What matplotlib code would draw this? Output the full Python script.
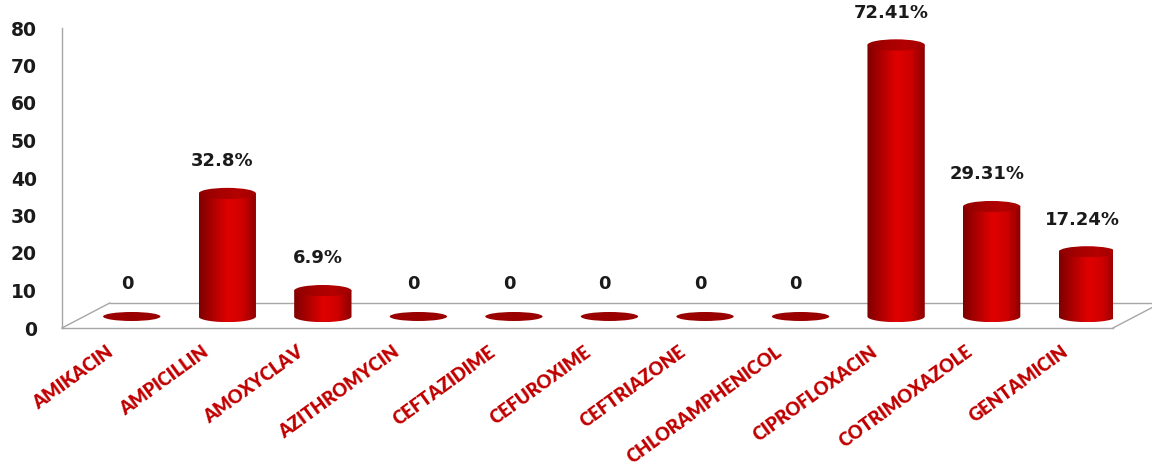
import numpy as np
import matplotlib
matplotlib.use("Agg")  # headless
import matplotlib.pyplot as plt
from matplotlib.patches import Ellipse, PathPatch
from matplotlib.path import Path
from matplotlib.transforms import offset_copy
from matplotlib.colors import LinearSegmentedColormap

# ── Data ──────────────────────────────────────────────────────────────────────
drugs = [
    "AMIKACIN", "AMPICILLIN", "AMOXYCLAV", "AZITHROMYCIN", "CEFTAZIDIME",
    "CEFUROXIME", "CEFTRIAZONE", "CHLORAMPHENICOL", "CIPROFLOXACIN",
    "COTRIMOXAZOLE", "GENTAMICIN",
]
resistance = [0, 32.8, 6.9, 0, 0, 0, 0, 0, 72.41, 29.31, 17.24]
value_labels = ["0", "32.8%", "6.9%", "0", "0", "0", "0", "0",
                "72.41%", "29.31%", "17.24%"]
y_ticks = [0, 10, 20, 30, 40, 50, 60, 70, 80]

# ── Style / 3D fake geometry ──────────────────────────────────────────────────
FLOOR_DX, FLOOR_DY = 0.50, 6.67     # depth of the floor (data units)
BAR_DEPTH = 0.46                    # bars sit part way into the floor
BAR_W = 0.60
ELL_H = 1.5                         # half height of the cylinder ellipses
GRID_COLOR = "#a6a6a6"
LABEL_RED = "#c00000"

body_cmap = LinearSegmentedColormap.from_list(
    "cyl", ["#7e0000", "#b00000", "#e00000", "#cf0000", "#8a0000"])
top_cmap = LinearSegmentedColormap.from_list(
    "cyltop", ["#8e0000", "#a60000", "#b40000", "#a00000"])

fig = plt.figure(figsize=(11.52, 4.68), dpi=100)
ax = fig.add_axes([62 / 1152, 140 / 468, 1051 / 1152, 300 / 468])
x = np.arange(len(drugs))

# floor + vertical axis
x0, x1 = -0.5, len(drugs) - 0.5
line_kw = dict(color=GRID_COLOR, lw=1.0, clip_on=False, zorder=1)
ax.plot([x0, x1], [0, 0], **line_kw)
ax.plot([x0, x0 + FLOOR_DX], [0, FLOOR_DY], **line_kw)
ax.plot([x0 + FLOOR_DX, x1 + FLOOR_DX], [FLOOR_DY, FLOOR_DY], **line_kw)
ax.plot([x1, x1 + FLOOR_DX], [0, FLOOR_DY], **line_kw)
ax.plot([x0, x0], [0, 80], **line_kw)

# cylinders
grad = np.linspace(0, 1, 256).reshape(1, -1)
base = BAR_DEPTH * FLOOR_DY
for xi, val, lab in zip(x, resistance, value_labels):
    cx = xi + BAR_DEPTH * FLOOR_DX
    top = base + val
    if val > 0:
        theta = np.linspace(np.pi, 2 * np.pi, 60)
        arc = np.column_stack([cx + BAR_W / 2 * np.cos(theta),
                               base + ELL_H * np.sin(theta)])
        verts = np.vstack([[cx - BAR_W / 2, top], arc,
                           [cx + BAR_W / 2, top], [cx - BAR_W / 2, top]])
        codes = [Path.MOVETO] + [Path.LINETO] * (len(verts) - 2) + [Path.CLOSEPOLY]
        body = PathPatch(Path(verts, codes), facecolor="none",
                         edgecolor="none", zorder=3)
        ax.add_patch(body)
        im = ax.imshow(grad, cmap=body_cmap, aspect="auto", zorder=3,
                       extent=(cx - BAR_W / 2, cx + BAR_W / 2,
                               base - ELL_H, top), interpolation="bilinear")
        im.set_clip_path(body)
        cap = Ellipse((cx, top), BAR_W, 2 * ELL_H, facecolor="none",
                      edgecolor="none", zorder=4)
        ax.add_patch(cap)
        im2 = ax.imshow(grad, cmap=top_cmap, aspect="auto", zorder=4,
                        extent=(cx - BAR_W / 2, cx + BAR_W / 2,
                                top - ELL_H, top + ELL_H),
                        interpolation="bilinear")
        im2.set_clip_path(cap)
    else:
        ax.add_patch(Ellipse((cx, base), BAR_W, 2 * ELL_H * 0.8,
                             facecolor="#9a0000", edgecolor="none", zorder=4))
    ax.text(cx - 0.05, top + 8.6, lab, ha="center", va="center",
            fontsize=13, fontweight="bold", color="#1a1a1a", zorder=5)

ax.set_xlim(x0, x1)
ax.set_ylim(0, 80)

# axes cosmetics
for sp in ax.spines.values():
    sp.set_visible(False)
ax.set_xticks([])
ax.set_yticks(y_ticks)
ax.set_yticklabels([str(t) for t in y_ticks], fontsize=13.5,
                   fontweight="bold", color="#1a1a1a")
ax.tick_params(axis="y", length=0, pad=18)

# rotated category labels under the floor
lab_trans = offset_copy(ax.transData, fig=fig, x=0, y=-15, units="dots")
for xi, name in zip(x, drugs):
    ax.text(xi - 0.04, 0, name, rotation=36, rotation_mode="anchor",
            ha="right", va="top", transform=lab_trans, fontsize=13.2,
            fontfamily="Lato", fontweight="heavy", color=LABEL_RED)

fig.savefig("out.png", dpi=100)
